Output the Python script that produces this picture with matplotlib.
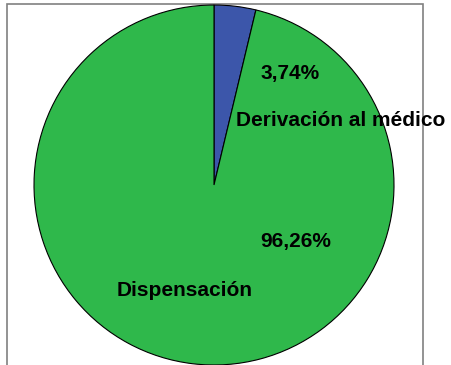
import matplotlib
matplotlib.use("Agg")
from matplotlib import pyplot as plt
from matplotlib.patches import Rectangle

categories = ["Derivación al médico", "Dispensación"]
percentages = [3.74, 96.26]
colors = ["#3C56AA", "#2FB84B"]

plt.rcParams["font.family"] = ["Liberation Sans", "DejaVu Sans"]

W, H = 451, 365
fig = plt.figure(figsize=(W / 100, H / 100), dpi=100)
ax = fig.add_axes([0, 0, 1, 1])

# chart area frame, runs off the bottom of the image
ax.add_patch(Rectangle((7, -20), 416, H - 4 + 20, facecolor="white",
                       edgecolor="#808080", linewidth=1.2, zorder=0))

ax.pie(percentages, colors=colors, startangle=90, counterclock=False,
       center=(214, H - 185), radius=180, frame=True,
       wedgeprops=dict(edgecolor="black", linewidth=0.8))
ax.set_xlim(0, W)
ax.set_ylim(0, H)
ax.set_aspect("equal")
ax.set_axis_off()

def pct(v):
  return f"{v:.2f}%".replace(".", ",")

txt = dict(fontsize=15, fontweight="bold", ha="center", va="center", color="black")
ax.text(290, H - 73, pct(percentages[0]), **txt)
ax.text(341, H - 120, categories[0], **txt)
ax.text(296, H - 241, pct(percentages[1]), **txt)
ax.text(185, H - 290, categories[1], **txt)

fig.savefig("out.png", dpi=100)
